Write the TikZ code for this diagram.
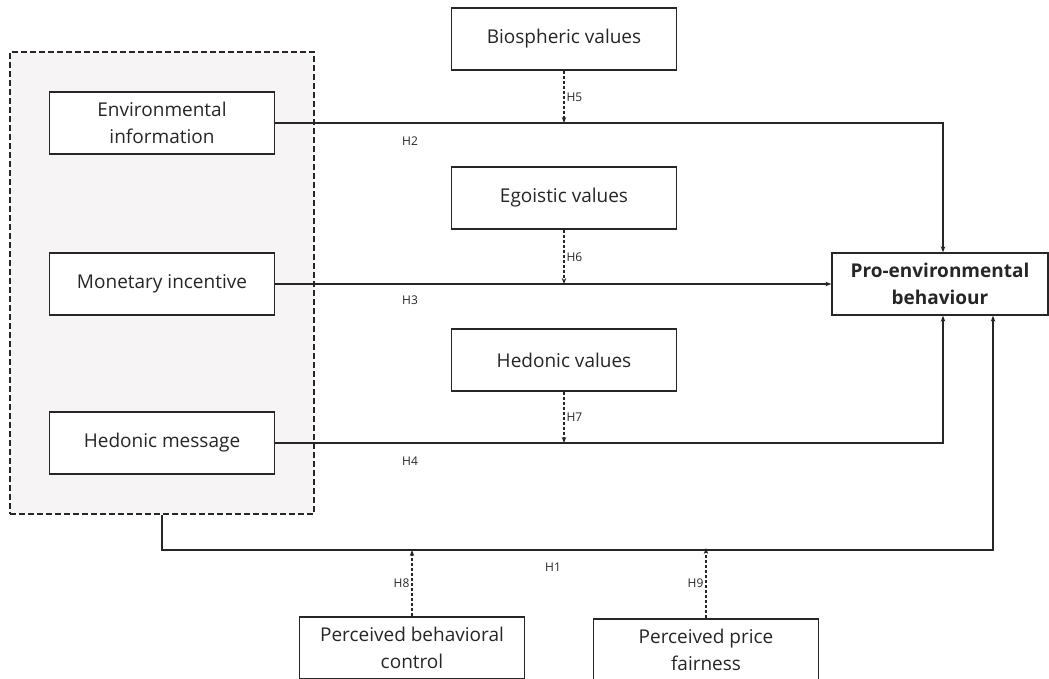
\documentclass[tikz,border=0pt]{standalone}
\usepackage{fontspec}
\setmainfont{Open Sans}
\usetikzlibrary{arrows.meta}

\definecolor{grpfill}{RGB}{246,244,245}
\definecolor{ink}{RGB}{38,38,38}

\begin{document}
\begin{tikzpicture}[x=1pt, y=-1pt,
    box/.style={draw=ink, line width=1.3pt, fill=white, minimum width=225pt,
      minimum height=62pt, align=center, text=ink, inner sep=2pt,
      font=\fontsize{19}{27}\selectfont},
    grpbox/.style={draw=ink, line width=1.2pt, fill=grpfill,
      dash pattern=on 6pt off 3pt},
    link/.style={draw=ink, line width=1.2pt, -{Stealth[length=6pt, width=4.5pt]}},
    modlink/.style={draw=ink, line width=1.1pt, dash pattern=on 3pt off 2pt,
      -{Stealth[length=6pt, width=4.5pt]}},
    hlabel/.style={text=ink, font=\fontsize{12}{14}\selectfont, inner sep=2pt}]

    \clip (0,0) rectangle (1049,678);

    % group of message types
    \node[grpbox, minimum width=304pt, minimum height=462pt] (grp) at (162,283) {};

    \node[box] (env)  at (162,123) {Environmental\\information};
    \node[box] (mon)  at (162,284) {Monetary incentive};
    \node[box] (hedm) at (162,443) {Hedonic message};

    % moderators
    \node[box] (bio)  at (564,39)  {Biospheric values};
    \node[box] (ego)  at (564,198) {Egoistic values};
    \node[box] (hedv) at (564,360) {Hedonic values};

    \node[box, minimum width=216pt, font=\fontsize{19}{27}\selectfont\bfseries]
      (peb) at (940,284) {Pro-environmental\\behaviour};

    \node[box] (pbc) at (412,648) {Perceived behavioral\\control};
    \node[box] (ppf) at (706,650) {Perceived price\\fairness};

    % direct effects
    \draw[link] (env.east) -| ([xshift=3pt]peb.north);
    \draw[link] (mon.east) -- (peb.west);
    \draw[link] (hedm.east) -| ([xshift=3pt]peb.south);
    \coordinate (c1) at (162,550);
    \draw[link] (grp.south) -- (c1) -| ([xshift=53pt]peb.south);

    % moderating effects
    \foreach \src/\tgt/\h in {bio/env/H5, ego/mon/H6, hedv/hedm/H7} {
      \draw[modlink] (\src.south) -- node[hlabel, right] {\h} (\src.south |- \tgt.east);
    }
    \draw[modlink] (pbc.north) -- node[hlabel, left] {H8} (pbc.north |- c1);
    \draw[modlink] (ppf.north) -- node[hlabel, left] {H9} ([yshift=2pt]ppf.north |- c1);

    \node[hlabel] (h2) at (410,141) {H2};
    \node[hlabel] (h3) at (410,300) {H3};
    \node[hlabel] (h4) at (410,461) {H4};
    \node[hlabel] (h1) at (553,567) {H1};

\end{tikzpicture}
\end{document}
